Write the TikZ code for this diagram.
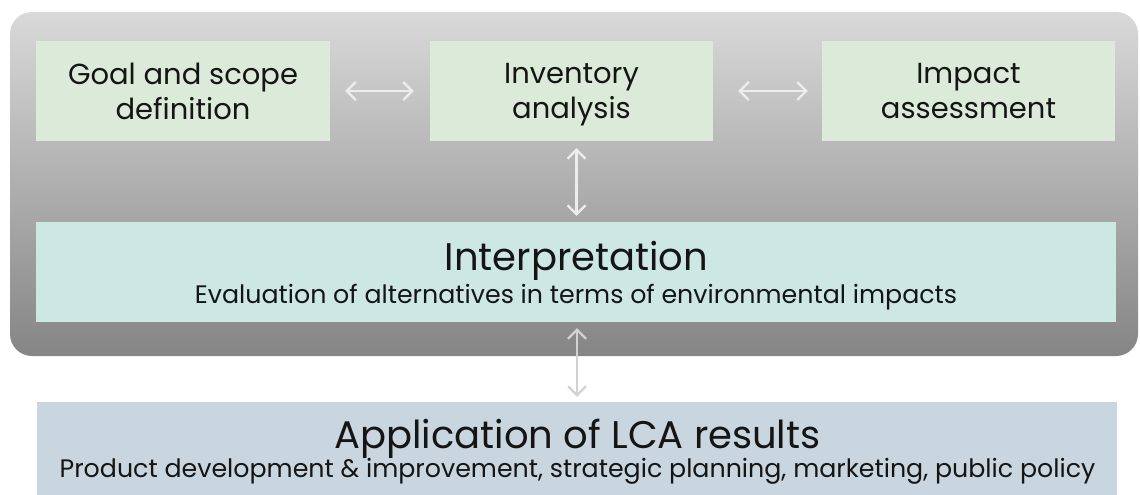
\documentclass[tikz,border=0pt]{standalone}
\usepackage{fontspec}
\setmainfont{Poppins}
\usetikzlibrary{arrows.meta,calc}
\definecolor{stagefill}{HTML}{DCEBD9}
\definecolor{interpfill}{HTML}{CDE8E3}
\definecolor{appfill}{HTML}{C9D6DF}
\definecolor{inktext}{HTML}{151515}
\definecolor{framesTop}{HTML}{D9D9D9}
\definecolor{framesBot}{HTML}{858585}
\definecolor{linkUpper}{HTML}{EDEDED}
\definecolor{linkLower}{HTML}{D2D2D2}
% last line of a stage label without descender depth, so all labels sit alike
\newcommand{\nodepth}[1]{\raisebox{0pt}[\height][0pt]{#1}}
\tikzset{
  stagebox/.style={fill=stagefill, draw=none, minimum width=#1, minimum height=100pt,
    inner sep=0pt, align=center, text=inktext, font=\fontsize{29}{35}\selectfont},
  widebox/.style={draw=none, minimum width=1080pt, inner sep=0pt},
  headline/.style={anchor=base, inner sep=0pt, text=inktext, font=\fontsize{38.5}{44}\selectfont},
  subline/.style={anchor=base, inner sep=0pt, text=inktext, font=\fontsize{25.3}{30}\selectfont},
  link/.style={draw=#1, line width=2.2pt,
    {Straight Barb[length=9pt,width=18pt,line width=2.2pt]}-{Straight Barb[length=9pt,width=18pt,line width=2.2pt]}},
}
\begin{document}
\begin{tikzpicture}[x=1pt,y=-1pt]
\useasboundingbox (0,0) rectangle (1140,495);

% grey frame around the four LCA phases
\path[top color=framesTop, bottom color=framesBot, rounded corners=22pt]
  (10,12) rectangle (1138,356);

% the three framework stages
\node[stagebox=294pt] (goal)   at (183,91)   {Goal and scope\\\nodepth{definition}};
\node[stagebox=283pt] (inv)    at (571.5,91) {Inventory\\\nodepth{analysis}};
\node[stagebox=293pt] (impact) at (968.5,91) {Impact\\\nodepth{assessment}};

% interpretation phase
\node[widebox, fill=interpfill, minimum height=100pt] (interp) at (576,272) {};
\node[headline] (interpTitle) at (576.5,270) {Interpretation};
\node[subline]  (interpSub)   at (576,303)
  {Evaluation of alternatives in terms of environmental impacts};

% application of the results
\node[widebox, fill=appfill, minimum height=93pt] (app) at (576.5,448.5) {};
\node[headline] (appTitle) at (577.5,448) {Application of LCA results};
\node[subline]  (appSub)   at (577.5,477)
  {Product development \& improvement, strategic planning, marketing, public policy};

% two-way links between the phases
\draw[link=linkUpper, shorten <=15pt, shorten >=16pt] (goal) -- (inv);
\draw[link=linkUpper, shorten <=25pt, shorten >=14pt] (inv) -- (impact);
\draw[link=linkUpper, shorten <=7pt, shorten >=6pt]
  ([xshift=5pt]inv.south) -- ([xshift=5pt]inv.south |- interp.north);
\draw[link=linkLower, shorten <=6pt, shorten >=5pt]
  ([xshift=1pt]interp.south) -- ([xshift=1pt]interp.south |- app.north);
\end{tikzpicture}
\end{document}
